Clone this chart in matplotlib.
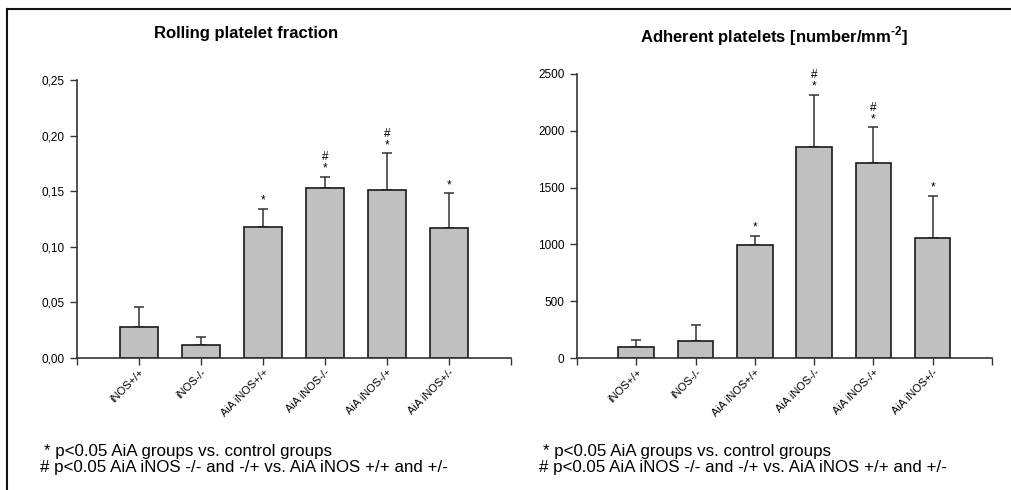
import matplotlib
matplotlib.use("Agg")
import matplotlib.pyplot as plt
from matplotlib.lines import Line2D

plt.rcParams['font.family'] = ['Liberation Sans', 'DejaVu Sans']
plt.rcParams['mathtext.fontset'] = 'custom'
plt.rcParams['mathtext.rm'] = 'Liberation Sans:bold'
plt.rcParams['mathtext.bf'] = 'Liberation Sans:bold'

# data
groups = ["iNOS+/+", "iNOS-/-", "AiA iNOS+/+", "AiA iNOS-/-", "AiA iNOS-/+", "AiA iNOS+/-"]

rolling_mean = [0.028, 0.012, 0.118, 0.153, 0.151, 0.117]
rolling_err = [0.0175, 0.0066, 0.016, 0.010, 0.033, 0.031]
rolling_marks = ["", "", "*", "#\n*", "#\n*", "*"]
rolling_ticks = [0.00, 0.05, 0.10, 0.15, 0.20, 0.25]

adherent_mean = [97, 149, 993, 1859, 1713, 1060]
adherent_err = [64, 141, 84, 457, 317, 369]
adherent_marks = ["", "", "*", "#\n*", "#\n*", "*"]
adherent_ticks = [0, 500, 1000, 1500, 2000, 2500]

footnote1 = "* p<0.05 AiA groups vs. control groups"
footnote2 = "# p<0.05 AiA iNOS -/- and -/+ vs. AiA iNOS +/+ and +/-"

fig = plt.figure(figsize=(10.11, 4.90), dpi=100)


def draw_panel(rect, means, errs, marks, ticks, ylim, fmt, mark_gap):
    ax = fig.add_axes(rect)
    xs = list(range(1, len(means) + 1))
    ax.bar(xs, means, width=0.6, color="#c0c0c0", edgecolor="#1a1a1a", linewidth=1.2, zorder=2)
    ax.errorbar(xs, means, yerr=[[0] * len(errs), errs], fmt="none", ecolor="#333333",
                elinewidth=1.1, capsize=3.6, capthick=1.1, zorder=1)
    for x, m, e, t in zip(xs, means, errs, marks):
        if t:
            ax.text(x, m + e + mark_gap, t, ha="center", va="bottom", fontsize=8.5,
                    linespacing=0.9)
    ax.set_xlim(0, 7)
    ax.set_ylim(*ylim)
    ax.set_yticks(ticks)
    ax.set_yticklabels([fmt(t) for t in ticks], fontsize=8.5)
    ax.set_xticks(range(0, 8))
    ax.set_xticklabels([""] + groups + [""], rotation=45, ha="right",
                       rotation_mode="anchor", fontsize=8)
    ax.tick_params(axis="both", direction="out", length=5, width=1, color="#333333")
    ax.tick_params(axis="y", pad=4)
    ax.tick_params(axis="x", pad=1.5)
    for s in ["top", "right"]:
        ax.spines[s].set_visible(False)
    for s in ["left", "bottom"]:
        ax.spines[s].set_linewidth(1.2)
        ax.spines[s].set_color("#333333")
    ax.patch.set_alpha(0)
    return ax


draw_panel([0.0762, 0.2694, 0.4292, 0.5673], rolling_mean, rolling_err, rolling_marks,
           rolling_ticks, (0, 0.25), lambda t: f"{t:.2f}".replace(".", ","), 0.002)
draw_panel([0.5707, 0.2688, 0.4105, 0.5806], adherent_mean, adherent_err, adherent_marks,
           adherent_ticks, (0, 2500), lambda t: f"{t:d}", 20)

fig.text(0.243, 0.931, "Rolling platelet fraction", ha="center", va="center",
         fontsize=12, fontweight="bold")
fig.text(0.766, 0.926, r"Adherent platelets [number/mm$^{\text{-2}}$]", ha="center",
         va="center", fontsize=12, fontweight="bold")

for x0 in [0.040, 0.533]:
    fig.text(x0 + 0.004, 1 - 451 / 490, footnote1, ha="left", va="center", fontsize=12.2)
    fig.text(x0, 1 - 467 / 490, footnote2, ha="left", va="center", fontsize=12.2)

# outer frame (top and left edges only)
top = 1 - 9.5 / 490
fig.add_artist(Line2D([7 / 1011, 1], [top, top], color="#111111", linewidth=1.5))
fig.add_artist(Line2D([7 / 1011, 7 / 1011], [0, top], color="#111111", linewidth=1.5))

fig.savefig("out.png", dpi=100)
